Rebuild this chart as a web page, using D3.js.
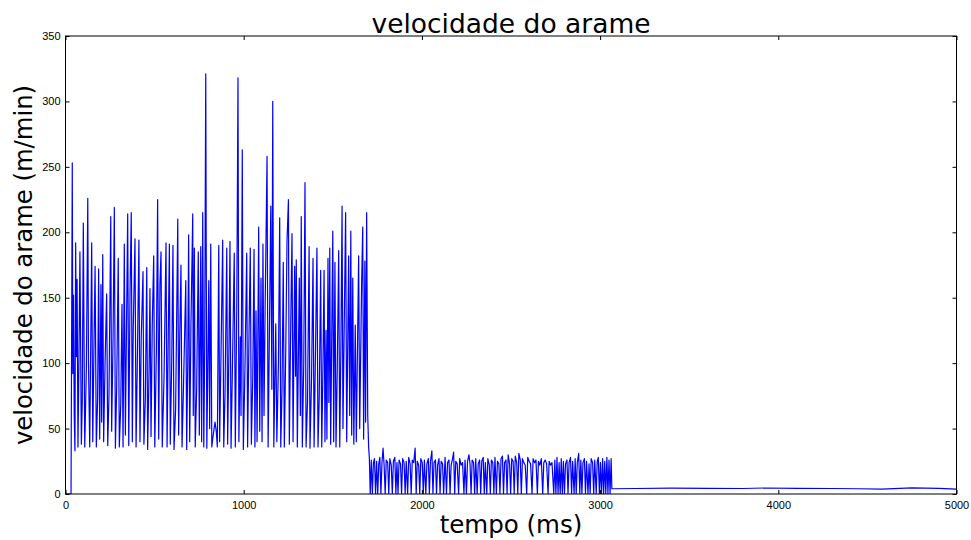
<!DOCTYPE html>
<html>
<head>
<meta charset="utf-8">
<script src="https://cdn.jsdelivr.net/npm/d3@7"></script>
<style>
  html, body { margin: 0; padding: 0; background: #fff; }
  svg { display: block; font-family: "DejaVu Sans", sans-serif; }
  .tick text { font-size: 11px; fill: #000; }
</style>
</head>
<body>
<svg id="chart" width="971" height="540"></svg>
<script>
// Wire feed speed over time, three phases: pulsed feed, low-speed pulses, idle.
const titleText = "velocidade do arame";
const xLabel = "tempo (ms)";
const yLabel = "velocidade do arame (m/min)";
const xTicks = [0, 1000, 2000, 3000, 4000, 5000];
const yTicks = [0, 50, 100, 150, 200, 250, 300, 350];

// Phase 1: start-up and high-speed pulses (ms, m/min)
const timePulsed = [0, 31, 38, 41, 45, 49, 53, 57, 61, 65, 70, 76, 81, 89, 94, 100, 108, 117, 125, 129,
  136, 147, 153, 160, 166, 173, 180, 186, 192, 199, 203, 209, 214, 222, 231, 237, 244, 254, 259, 267,
  274, 280, 287, 296, 302, 310, 317, 323, 330, 336, 341, 349, 355, 362, 369, 375, 380, 390, 396, 403,
  412, 418, 425, 435, 440, 448, 456, 461, 469, 474, 480, 487, 495, 501, 510, 517, 523, 530, 536, 543,
  553, 564, 570, 577, 583, 588, 596, 603, 609, 618, 630, 635, 641, 648, 654, 661, 675, 680, 686, 691,
  697, 704, 714, 717, 723, 728, 736, 745, 751, 759, 764, 770, 776, 781, 787, 793, 798, 804, 809, 815,
  821, 826, 832, 839, 846, 852, 860, 865, 873, 882, 888, 895, 905, 910, 918, 923, 929, 936, 947, 953,
  961, 968, 973, 981, 985, 992, 998, 1007, 1017, 1022, 1030, 1037, 1043, 1051, 1058, 1063, 1069, 1075, 1084, 1090,
  1097, 1103, 1108, 1114, 1120, 1125, 1131, 1137, 1144, 1152, 1158, 1163, 1169, 1180, 1186, 1195, 1202, 1208, 1215, 1222,
  1228, 1236, 1243, 1251, 1256, 1264, 1271, 1277, 1286, 1291, 1295, 1301, 1312, 1318, 1323, 1329, 1337, 1344, 1350, 1358,
  1367, 1372, 1381, 1389, 1395, 1403, 1411, 1417, 1424, 1432, 1438, 1445, 1451, 1456, 1462, 1467, 1473, 1478, 1483, 1488,
  1500, 1505, 1512, 1518, 1525, 1533, 1539, 1546, 1552, 1557, 1566, 1572, 1578, 1589, 1595, 1601, 1606, 1612, 1618, 1626,
  1632, 1645, 1651, 1662, 1668, 1673, 1680, 1684, 1690, 1696, 1701, 1705];
const speedPulsed = [0, 0, 253, 92, 152, 60, 33, 192, 105, 164, 36, 110, 185, 38, 70, 207, 36, 95, 226, 100,
  36, 192, 40, 115, 174, 36, 72, 172, 42, 160, 55, 183, 40, 100, 153, 37, 75, 212, 48, 120,
  219, 35, 80, 180, 36, 68, 145, 36, 191, 45, 110, 214, 37, 152, 215, 40, 125, 195, 36, 100,
  194, 40, 120, 170, 38, 72, 173, 34, 95, 157, 44, 130, 182, 36, 110, 225, 42, 160, 185, 36,
  90, 192, 36, 125, 191, 38, 100, 190, 34, 65, 210, 45, 120, 175, 36, 75, 163, 34, 100, 198,
  40, 130, 214, 60, 188, 36, 80, 185, 45, 189, 40, 215, 36, 110, 321, 35, 90, 163, 50, 191,
  36, 42, 48, 55, 48, 36, 190, 40, 110, 194, 36, 75, 188, 38, 120, 193, 35, 90, 184, 36,
  140, 318, 40, 120, 60, 263, 34, 95, 184, 36, 125, 188, 38, 90, 187, 36, 140, 40, 204, 48,
  165, 40, 191, 60, 140, 192, 258, 36, 120, 220, 80, 300, 36, 130, 40, 100, 211, 36, 80, 177,
  36, 110, 193, 225, 38, 130, 199, 40, 174, 90, 179, 36, 165, 60, 212, 36, 100, 238, 36, 70,
  189, 35, 90, 180, 36, 110, 188, 36, 75, 171, 36, 100, 171, 40, 125, 42, 180, 70, 188, 38,
  201, 40, 177, 36, 95, 186, 36, 120, 220, 50, 150, 215, 40, 182, 60, 201, 45, 165, 38, 129,
  40, 182, 50, 163, 204, 42, 178, 55, 215, 60, 36, 28];

// Phase 2: low-speed pulses with drops to zero
const timeLow = [1710, 1716, 1722, 1728, 1734, 1740, 1746, 1752, 1758, 1764, 1770, 1776, 1782, 1788, 1794, 1800, 1808, 1814, 1820, 1828,
  1834, 1840, 1848, 1854, 1860, 1866, 1872, 1880, 1886, 1892, 1900, 1906, 1912, 1920, 1926, 1934, 1940, 1946, 1954, 1962,
  1968, 1974, 1982, 1988, 1994, 2002, 2008, 2014, 2022, 2028, 2036, 2042, 2048, 2056, 2062, 2068, 2076, 2082, 2088, 2096,
  2102, 2108, 2116, 2122, 2130, 2138, 2144, 2152, 2158, 2164, 2172, 2178, 2184, 2190, 2198, 2206, 2212, 2220, 2228, 2236,
  2242, 2250, 2256, 2264, 2270, 2276, 2282, 2290, 2296, 2302, 2310, 2316, 2324, 2330, 2336, 2344, 2350, 2356, 2364, 2370,
  2378, 2384, 2390, 2398, 2404, 2410, 2418, 2424, 2432, 2438, 2444, 2452, 2458, 2464, 2472, 2478, 2484, 2492, 2498, 2504,
  2512, 2518, 2524, 2532, 2538, 2544, 2552, 2558, 2564, 2572, 2580, 2588, 2594, 2602, 2610, 2618, 2624, 2632, 2640, 2648,
  2654, 2662, 2670, 2678, 2684, 2692, 2700, 2708, 2714, 2722, 2730, 2740, 2746, 2752, 2758, 2764, 2770, 2776, 2782, 2788,
  2794, 2800, 2806, 2814, 2820, 2826, 2834, 2840, 2846, 2854, 2860, 2866, 2872, 2880, 2886, 2892, 2898, 2904, 2912, 2918,
  2924, 2932, 2938, 2944, 2950, 2958, 2964, 2970, 2978, 2984, 2990, 2996, 3002, 3008, 3014, 3020, 3026, 3032, 3038, 3044,
  3050, 3056, 3062];
const speedLow = [0, 26, 0, 24, 27, 0, 25, 0, 23, 28, 0, 24, 35, 22, 0, 26, 24, 0, 27, 22,
  0, 25, 28, 0, 24, 0, 26, 23, 0, 27, 24, 0, 25, 0, 28, 23, 0, 26, 24, 35,
  0, 25, 22, 0, 27, 24, 0, 26, 0, 23, 27, 0, 25, 33, 0, 24, 26, 0, 22, 27,
  0, 25, 23, 0, 28, 0, 24, 26, 0, 22, 27, 32, 0, 25, 23, 0, 27, 22, 24, 0,
  26, 0, 25, 30, 23, 0, 26, 24, 0, 27, 0, 23, 26, 0, 25, 28, 0, 24, 0, 27,
  22, 0, 26, 24, 0, 28, 0, 25, 23, 0, 27, 29, 0, 24, 26, 0, 30, 23, 0, 27,
  25, 0, 29, 24, 0, 31, 26, 0, 27, 24, 22, 0, 28, 25, 23, 0, 27, 24, 26, 0,
  25, 22, 27, 0, 24, 26, 23, 0, 25, 22, 24, 0, 26, 0, 28, 0, 24, 0, 27, 0,
  25, 0, 23, 26, 0, 24, 28, 0, 25, 0, 27, 0, 24, 31, 0, 26, 0, 24, 27, 0,
  25, 0, 23, 0, 27, 24, 0, 26, 0, 25, 28, 0, 24, 0, 27, 0, 25, 0, 28, 0,
  26, 0, 27];

// Phase 3: idle creep
const timeIdle = [3066, 3200, 3400, 3600, 3800, 3920, 4100, 4300, 4450, 4580, 4750, 4900, 5000];
const speedIdle = [4.0, 4.2, 4.5, 4.3, 4.2, 4.6, 4.3, 4.2, 4.0, 3.8, 4.7, 4.3, 3.8];

const series = []
  .concat(timePulsed.map((t, i) => [t, speedPulsed[i]]))
  .concat(timeLow.map((t, i) => [t, speedLow[i]]))
  .concat(timeIdle.map((t, i) => [t, speedIdle[i]]));

const margin = { left: 65.5, right: 14.5, top: 36, bottom: 46 };
const W = 971, H = 540;
const svg = d3.select("#chart");

const x = d3.scaleLinear().domain([0, 5000]).range([margin.left, W - margin.right]);
const y = d3.scaleLinear().domain([0, 350]).range([H - margin.bottom, margin.top]);

svg.append("defs").append("clipPath").attr("id", "plot-clip")
  .append("rect")
  .attr("x", x(0)).attr("y", y(350))
  .attr("width", x(5000) - x(0)).attr("height", y(0) - y(350));

svg.append("path")
  .datum(series)
  .attr("clip-path", "url(#plot-clip)")
  .attr("fill", "none")
  .attr("stroke", "#0000ff")
  .attr("stroke-width", 1.2)
  .attr("stroke-linejoin", "round")
  .attr("d", d3.line().x(d => x(d[0])).y(d => y(d[1])));

// Axes with inward ticks on all four sides
const fmt = d3.format("d");
const gB = svg.append("g").attr("transform", `translate(0,${y(0)})`)
  .call(d3.axisBottom(x).tickValues(xTicks).tickFormat(fmt).tickSizeInner(-4).tickSizeOuter(0).tickPadding(5));
const gT = svg.append("g").attr("transform", `translate(0,${y(350)})`)
  .call(d3.axisTop(x).tickValues(xTicks).tickFormat("").tickSizeInner(-4).tickSizeOuter(0));
const gL = svg.append("g").attr("transform", `translate(${x(0)},0)`)
  .call(d3.axisLeft(y).tickValues(yTicks).tickFormat(fmt).tickSizeInner(-4).tickSizeOuter(0).tickPadding(5));
const gR = svg.append("g").attr("transform", `translate(${x(5000)},0)`)
  .call(d3.axisRight(y).tickValues(yTicks).tickFormat("").tickSizeInner(-4).tickSizeOuter(0));

[gB, gT, gL, gR].forEach(g => {
  g.select(".domain").remove();
  g.selectAll(".tick line").attr("stroke", "#000").attr("stroke-width", 1);
});
gB.selectAll(".tick text").attr("y", 7).attr("dy", "0.71em");

// Frame
svg.append("rect")
  .attr("x", x(0)).attr("y", y(350))
  .attr("width", x(5000) - x(0)).attr("height", y(0) - y(350))
  .attr("fill", "none").attr("stroke", "#000").attr("stroke-width", 1);

svg.append("text")
  .attr("x", (x(0) + x(5000)) / 2).attr("y", 33)
  .attr("text-anchor", "middle").attr("font-size", 26.5).attr("fill", "#000")
  .text(titleText);

svg.append("text")
  .attr("x", (x(0) + x(5000)) / 2).attr("y", 533)
  .attr("text-anchor", "middle").attr("font-size", 24.5).attr("fill", "#000")
  .text(xLabel);

svg.append("text")
  .attr("transform", `translate(32,${(y(0) + y(350)) / 2}) rotate(-90)`)
  .attr("text-anchor", "middle").attr("font-size", 24.3).attr("fill", "#000")
  .text(yLabel);
</script>
</body>
</html>
